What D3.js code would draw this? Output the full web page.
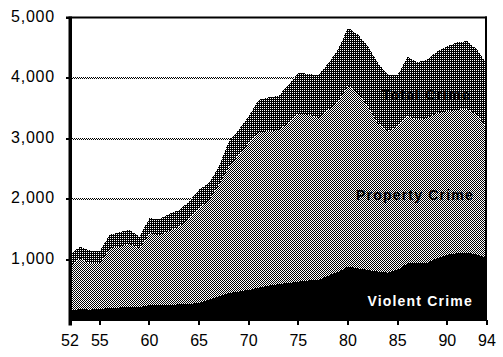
<!DOCTYPE html>
<html><head><meta charset="utf-8">
<script src="https://cdn.jsdelivr.net/npm/d3@7"></script>
<style>html,body{margin:0;padding:0;background:#fff;}svg{display:block;}</style>
</head><body>
<svg id="c" width="503" height="357"></svg>
<script>
const years = d3.range(1952, 1995);
const violent = [174,185,180,185,210,215,225,215,256,256,260,265,273,294,339,393,450,476,504,545,575,600,620,641,660,669,740,800,889,862,835,807,790,835,945,955,955,1028,1083,1110,1121,1083,1028];
const property = [716,843,765,760,983,1005,1039,978,1185,1157,1220,1285,1416,1560,1653,1847,2092,2260,2425,2565,2546,2549,2639,2772,2737,2673,2739,2817,2991,2893,2699,2452,2331,2369,2424,2359,2387,2397,2368,2369,2369,2314,2148];
const other = [193,192,209,204,220,238,232,192,248,259,280,276,275,303,276,302,413,413,440,530,559,562,621,673,673,703,761,854,950,964,992,992,937,846,981,947,964,1018,1075,1113,1119,1074,1054];
const seriesNames = ["Violent Crime","Property Crime","Total Crime"];
const yTicks = [1000,2000,3000,4000,5000];
const xTicks = [1952,1955,1960,1965,1970,1975,1980,1985,1990,1994];

const svg = d3.select("#c");
const x = d3.scaleLinear().domain([1952,1994]).range([70,487]);
const y = d3.scaleLinear().domain([0,5000]).range([320.5,17.5]);

const defs = svg.append("defs");
const p1 = defs.append("pattern").attr("id","prop").attr("width",2).attr("height",2).attr("patternUnits","userSpaceOnUse");
p1.append("rect").attr("width",2).attr("height",2).attr("fill","#fff");
p1.append("rect").attr("x",0).attr("y",0).attr("width",1).attr("height",1).attr("fill","#000");
p1.append("rect").attr("x",1).attr("y",1).attr("width",1).attr("height",1).attr("fill","#000");
const p2 = defs.append("pattern").attr("id","tot").attr("width",2).attr("height",2).attr("patternUnits","userSpaceOnUse");
p2.append("rect").attr("width",2).attr("height",2).attr("fill","#000");
p2.append("rect").attr("x",0).attr("y",0).attr("width",1).attr("height",1).attr("fill","#fff");

// dotted gridlines
[1000,2000,3000,4000].forEach(v=>{
  svg.append("rect").attr("x",70).attr("y",Math.round(y(v))-1).attr("width",417).attr("height",2).attr("fill","url(#prop)");
});

const rows = years.map((yr,i)=>({year:yr, v:violent[i], p:property[i], o:other[i]}));
const stack = d3.stack().keys(["v","p","o"]);
const layers = stack(rows);
const fills = ["#000","url(#prop)","url(#tot)"];
const area = d3.area().x(d=>x(d.data.year)).y0(d=>y(d[0])).y1(d=>y(d[1]));
svg.selectAll("path.layer").data(layers).enter().append("path")
  .attr("class","layer").attr("d",area).attr("fill",(d,i)=>fills[i]).attr("shape-rendering","crispEdges");

// frame: top and right
svg.append("rect").attr("x",66).attr("y",16.5).attr("width",421).attr("height",2).attr("fill","#000");
svg.append("rect").attr("x",485).attr("y",16.5).attr("width",2).attr("height",304).attr("fill","#000");
// left axis
svg.append("rect").attr("x",68.5).attr("y",16.5).attr("width",3.5).attr("height",309).attr("fill","#000");
// y ticks
yTicks.forEach(v=>{
  svg.append("rect").attr("x",66).attr("y",Math.round(y(v))-1).attr("width",4).attr("height",2).attr("fill","#000");
  svg.append("text").attr("x",55).attr("y",y(v)+4).attr("text-anchor","end")
    .attr("font-family","Liberation Sans, Arial, sans-serif").attr("font-size",16).attr("letter-spacing",0.8)
    .text(d3.format(",")(v));
});
// x ticks
xTicks.forEach(t=>{
  svg.append("rect").attr("x",Math.round(x(t))-1).attr("y",320).attr("width",2).attr("height",5).attr("fill","#000");
  svg.append("text").attr("x",x(t)).attr("y",345.5).attr("text-anchor","middle")
    .attr("font-family","Liberation Sans, Arial, sans-serif").attr("font-size",16)
    .text(String(t).slice(2));
});

// series labels
const lab = (t,xx,yy,col)=>svg.append("text").attr("x",xx).attr("y",yy).attr("text-anchor","end")
  .attr("font-family","Liberation Sans, Arial, sans-serif").attr("font-weight","bold").attr("font-size",14)
  .attr("letter-spacing",1.2).attr("fill",col).text(t);
lab(seriesNames[2],471,100,"#000");
lab(seriesNames[1],474,199.5,"#000");
lab(seriesNames[0],473,306,"#fff");
</script>
</body></html>
